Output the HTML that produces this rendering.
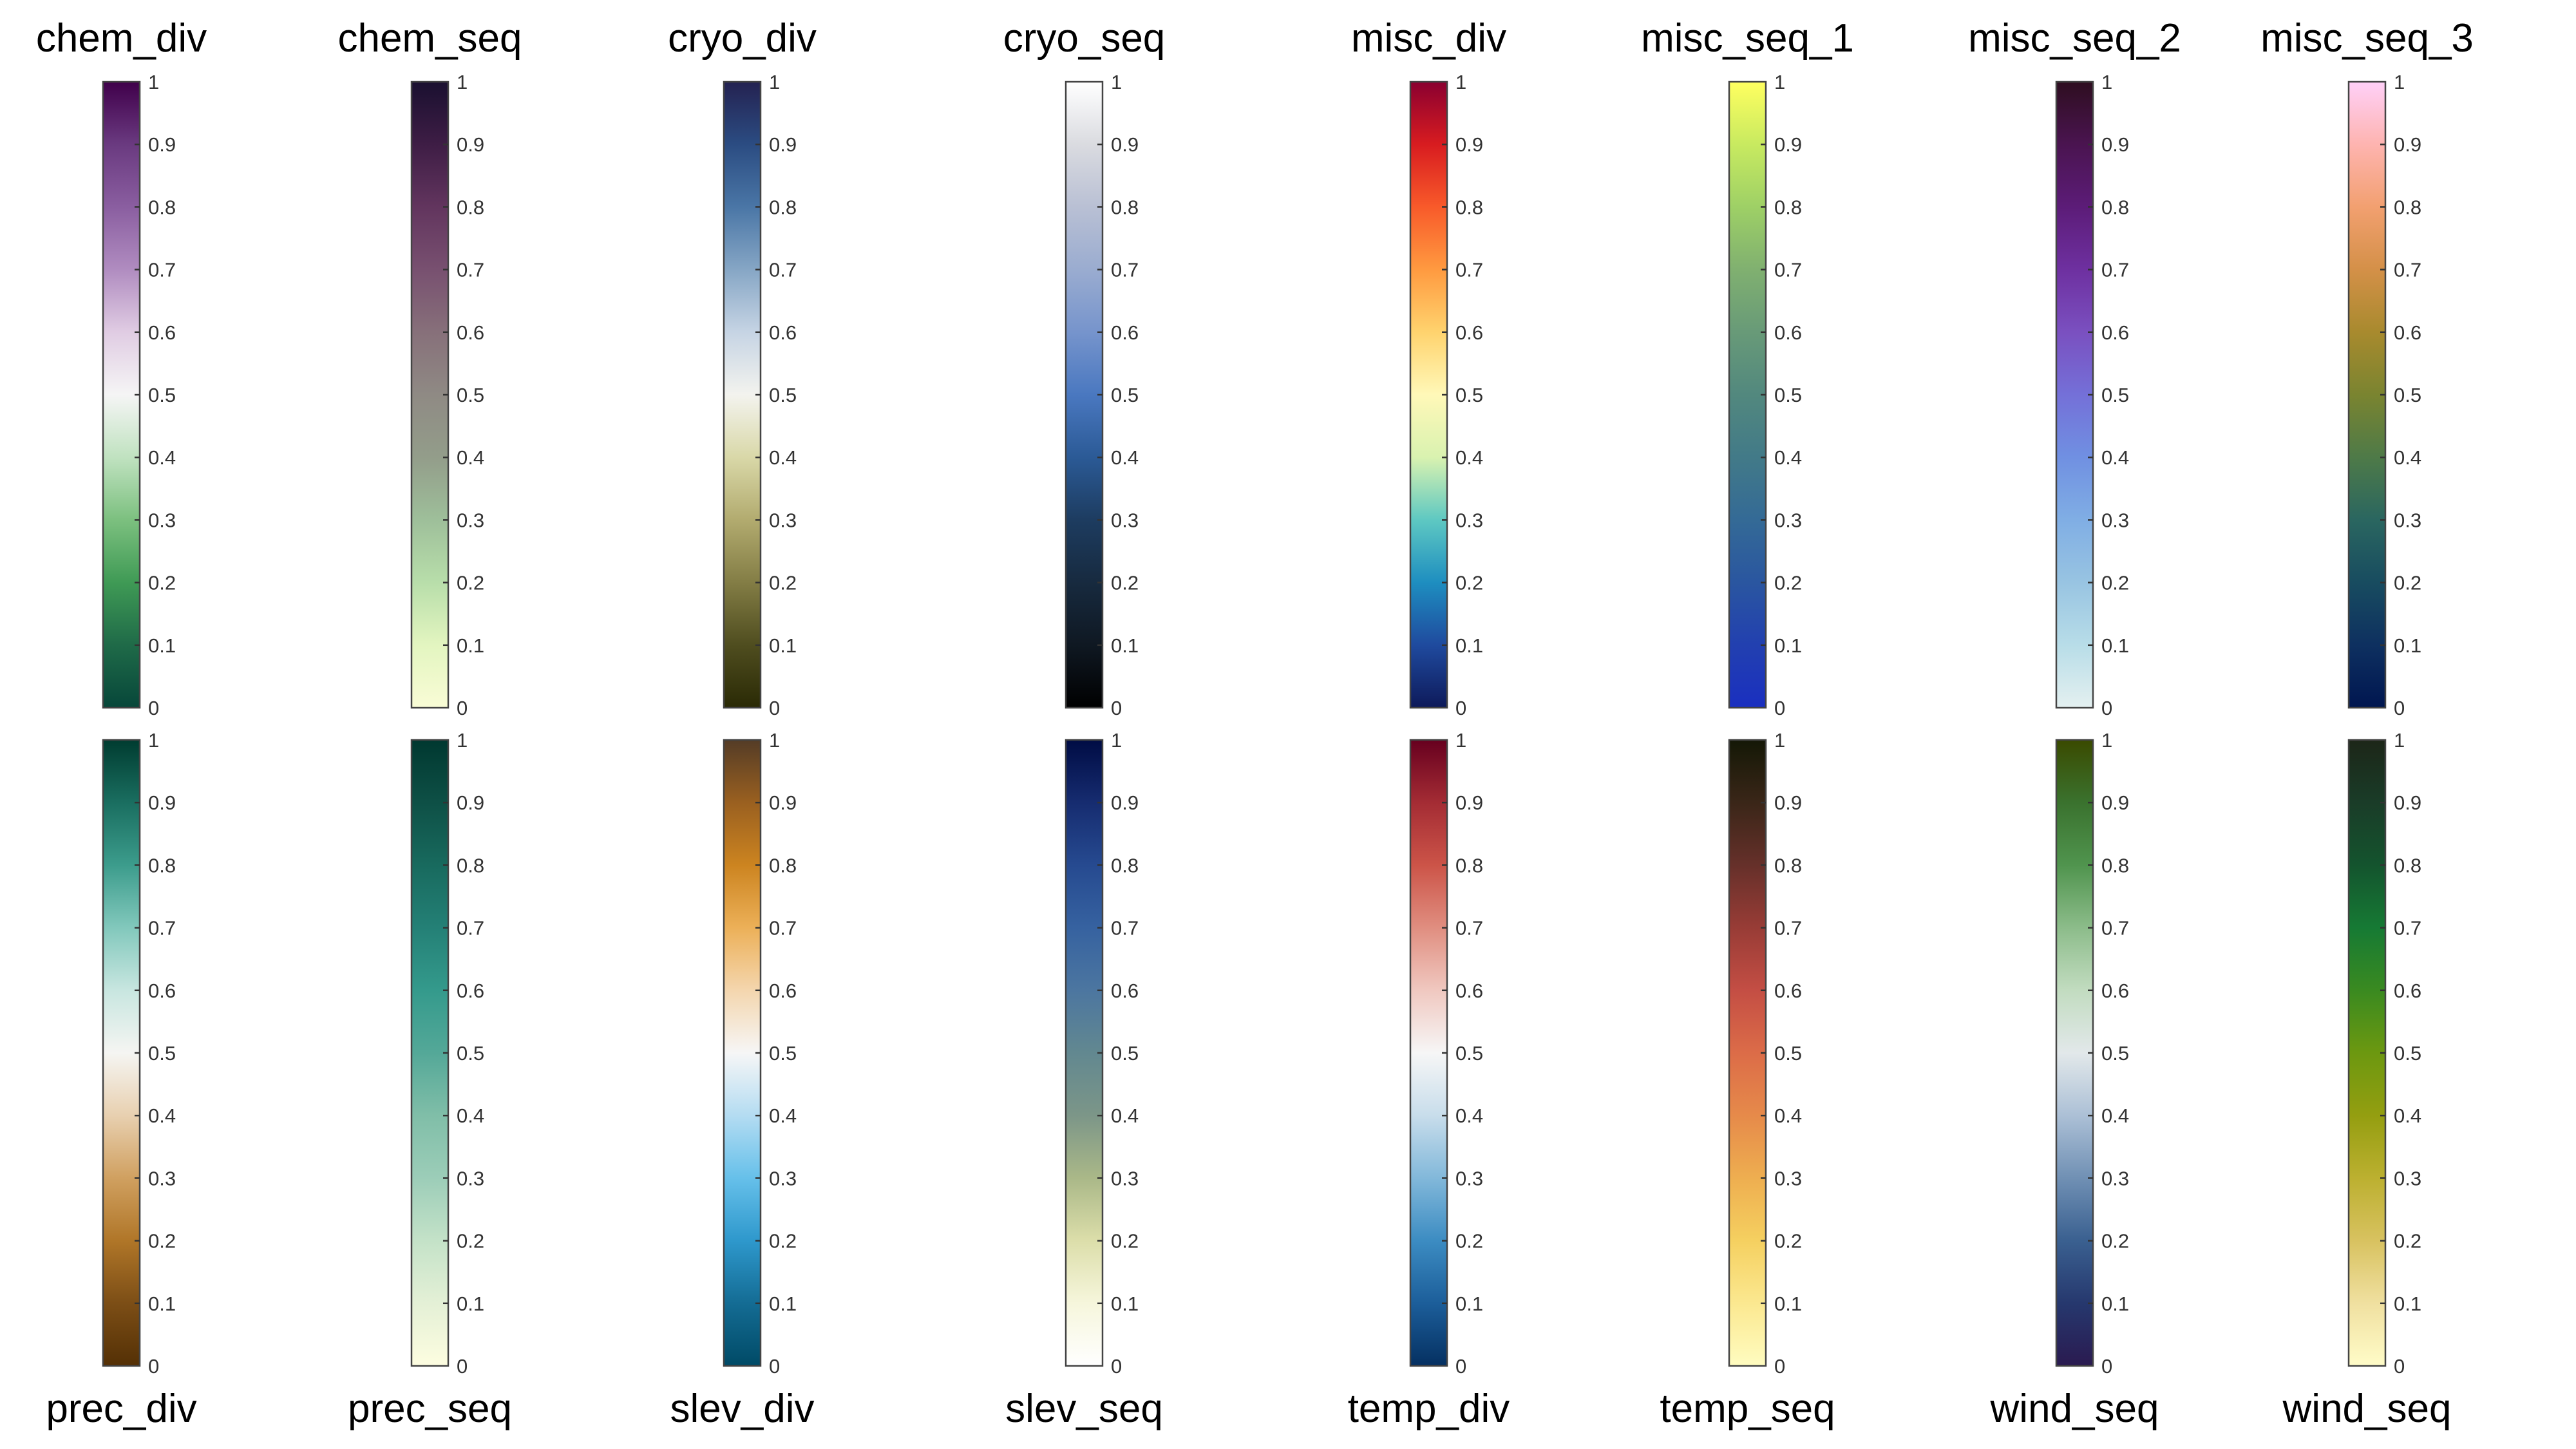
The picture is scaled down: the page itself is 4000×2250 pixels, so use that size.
<!DOCTYPE html>
<html><head><meta charset="utf-8"><style>
html,body{margin:0;padding:0;background:#fff;}
svg{display:block;}
</style></head><body>
<svg id="fig" width="4000" height="2250" viewBox="0 0 4000 2250" xmlns="http://www.w3.org/2000/svg"></svg>
<script>
const topNames = ["chem_div","chem_seq","cryo_div","cryo_seq","misc_div","misc_seq_1","misc_seq_2","misc_seq_3"];
const bottomNames = ["prec_div","prec_seq","slev_div","slev_seq","temp_div","temp_seq","wind_seq","wind_seq"];
const tickValues = [0,0.1,0.2,0.3,0.4,0.5,0.6,0.7,0.8,0.9,1];
const tickLabels = ["0","0.1","0.2","0.3","0.4","0.5","0.6","0.7","0.8","0.9","1"];
const stopPositions = [0,0.1,0.2,0.3,0.4,0.5,0.6,0.7,0.8,0.9,1];
const topMaps = [
 ["#07473a","#1f6a48","#3f9a55","#7cc07f","#c0e2c0","#f5f5f5","#e0cce3","#b08cc0","#8a5ea0","#6a3a80","#40004b"],
 ["#f9fcd6","#e3f5c0","#b8deaa","#9ebf9a","#939d8a","#8f8a84","#87707a","#785070","#62355e","#3e1d45","#1a1030"],
 ["#2a2a05","#4f4d1f","#837d45","#b2ab6f","#d9d8a8","#f3f3ee","#c6d4e4","#86a6c5","#4a76a6","#2b4c82","#242251"],
 ["#000000","#0f1822","#172a3f","#1d3c60","#2b5a96","#4a78c0","#7694cc","#9aacd0","#b9c0d4","#dadbe0","#ffffff"],
 ["#0e1a5a","#1f4a9e","#1e8ec0","#5ec8c2","#d9f2b0","#fff8b8","#ffd36e","#ff9a40","#f85a2a","#d81c20","#8a0030"],
 ["#1a2fc0","#2240b0","#2a56a0","#346a96","#427a88","#52887e","#689a78","#80b070","#9ed066","#c8ea60","#ffff60"],
 ["#e4f0f0","#b8dde8","#98c4e2","#80aee4","#7090e2","#7470d8","#7a50c0","#6e30a0","#5c1c78","#4a1450","#2e0e20"],
 ["#001650","#0e3060","#184c60","#2a6660","#4e7a48","#7a8430","#a88a2e","#d49048","#f2a070","#feb4b0","#ffd0f8"]
];
const bottomMaps = [
 ["#543005","#7c4e16","#b07628","#d0a060","#e8d0b0","#f5f5f2","#c8e6e0","#82c8bc","#3c9c8c","#1a6e60","#003c30"],
 ["#fdfde0","#e4f0d6","#c4e2c8","#9ccdb8","#80bea8","#54a898","#349a8c","#248076","#186a5e","#0e5046","#003830"],
 ["#004a66","#146c94","#2e98cc","#66c0ea","#b4dcf2","#f6f6f6","#f4d6ae","#ecb058","#cc8420","#9a6020","#543c26"],
 ["#ffffff","#f6f6dc","#dcdeaa","#aab888","#7c9688","#628890","#4c76a0","#3662a0","#264a90","#162c70","#000c44"],
 ["#053061","#1c5e9a","#3c8cc2","#82b8da","#c8ddeb","#f6f6f6","#f0c8c0","#e08e80","#cc5448","#a42c34","#67001f"],
 ["#fffcc0","#fbe890","#f5d060","#eeae50","#e68a4a","#dc6c48","#c44e44","#983c36","#66302a","#3a2618","#141806"],
 ["#2a1a50","#26386e","#3a6090","#7090b4","#acc0d6","#e2e8ea","#c2dcc0","#8cbc8a","#50944e","#3a722e","#3a4a00"],
 ["#fffcc8","#f0e0a0","#d8c260","#bcb030","#949e10","#6c9810","#3a8a20","#167a34","#14542e","#1a3c28","#1c2618"]
];

const NS = "http://www.w3.org/2000/svg";
const svg = document.getElementById("fig");
const defs = document.createElementNS(NS,"defs");
svg.appendChild(defs);
const barLefts = [160,639,1124,1655,2190,2685,3193,3647];
const barW = 57;
const rows = [
 {names: topNames, maps: topMaps, y0: 1099, y1: 127, titleY: 80, key: "top"},
 {names: bottomNames, maps: bottomMaps, y0: 2121, y1: 1149, titleY: 2208, key: "bottom"}
];
function mk(tag, attrs){ const e=document.createElementNS(NS,tag); for(const k in attrs) e.setAttribute(k,attrs[k]); return e; }

rows.forEach((row, ri) => {
  const yScale = v => row.y0 + (row.y1 - row.y0) * v;
  row.names.forEach((name, ci) => {
    const x = barLefts[ci];
    const cx = x + barW/2;
    const g = mk("g",{});
    
    
    const gid = "grad" + ri + "_" + ci;
    const grad = mk("linearGradient",{id:gid,x1:"0",y1:String(row.y0),x2:"0",y2:String(row.y1),gradientUnits:"userSpaceOnUse"});
    row.maps[ci].forEach((c, si) => {
      grad.appendChild(mk("stop",{offset:String(stopPositions[si]),"stop-color":c}));
    });
    defs.appendChild(grad);
    const rect = mk("rect",{x:x,y:row.y1,width:barW,height:row.y0-row.y1,fill:"url(#"+gid+")",stroke:"#444","stroke-width":"2.5"});
    
    
    g.appendChild(rect);
    tickValues.forEach((v, ti) => {
      const ty = yScale(v);
      if (v > 0 && v < 1) {
        const tk = mk("line",{x1:x+barW-8,x2:x+barW,y1:ty,y2:ty,stroke:"#333","stroke-width":"2.5"});
        
        
        g.appendChild(tk);
      }
      const t = mk("text",{x:x+barW+13,y:ty+11,"font-family":"Liberation Sans, sans-serif","font-size":"31",fill:"#333"});
      
      
      t.textContent = tickLabels[ti];
      g.appendChild(t);
    });
    const title = mk("text",{x:cx,y:row.titleY,"text-anchor":"middle","font-family":"Liberation Sans, sans-serif","font-size":"62",fill:"#000"});
    
    
    title.textContent = name;
    g.appendChild(title);
    svg.appendChild(g);
  });
});
</script>
</body></html>
